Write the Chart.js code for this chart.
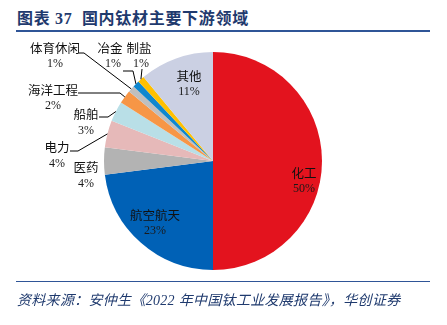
<!DOCTYPE html>
<html>
<head>
<meta charset="utf-8">
<script src="https://cdn.jsdelivr.net/npm/chart.js@4/dist/chart.umd.min.js"></script>
<style>
  html, body { margin: 0; padding: 0; background: #fff; }
  #wrap { position: relative; width: 447px; height: 325px; overflow: hidden; }
  #title {
    position: absolute; left: 17px; top: 5px;
    font: bold 16px "Liberation Serif", "Noto Sans CJK SC", serif;
    color: #1f3a6e; letter-spacing: 0.7px; white-space: nowrap;
  }
  #topRule { position: absolute; left: 16px; top: 30px; width: 414px; height: 2px; background: #2f5597; }
  #bottomRule { position: absolute; left: 16px; top: 281px; width: 414px; height: 1px; background: #2f5597; }
  #source {
    position: absolute; left: 17px; top: 289px;
    font: italic 14px "Liberation Serif", "Noto Sans CJK SC", serif;
    color: #1f3a6e; white-space: nowrap; letter-spacing: 0.3px;
  }
  #chartBox { position: absolute; left: 0; top: 0; width: 447px; height: 325px; }
</style>
</head>
<body>
<div id="wrap">
  <div id="title">图表 37&nbsp;&nbsp;国内钛材主要下游领域</div>
  <div id="topRule"></div>
  <div id="chartBox"><canvas id="pieChart"></canvas></div>
  <div id="bottomRule"></div>
  <div id="source">资料来源：安仲生《2022 年中国钛工业发展报告》，华创证券</div>
</div>
<script>
(function(){
  // data
  const categories = ["化工", "航空航天", "医药", "电力", "船舶", "海洋工程", "体育休闲", "冶金", "制盐", "其他"];
  const shares = [50, 23, 4, 4, 3, 2, 1, 1, 1, 11];
  const percentLabels = ["50%", "23%", "4%", "4%", "3%", "2%", "1%", "1%", "1%", "11%"];
  const sliceColors = ["#e3131e", "#0061b6", "#b3b3b3", "#e6b9b9", "#b9dfe7", "#f79646", "#bfbfbf", "#0f87cf", "#ffc000", "#cbd0e3"];

  // label placement (page px): name centre, percent centre, optional leader elbow
  const labelLayout = [
    { name: [304, 173], pct: [304, 189] },
    { name: [155, 215], pct: [155, 231] },
    { name: [86, 167],  pct: [86, 184] },
    { name: [57, 147],  pct: [57, 164],  line: [[70, 151], [78, 151]] },
    { name: [86, 114],  pct: [86, 131],  line: [[99, 117], [108, 117]] },
    { name: [53, 90],   pct: [53, 106],  line: [[78, 93], [120, 93]] },
    { name: [55, 48],   pct: [55, 64],   line: [[79, 53], [84, 53]] },
    { name: [110, 48],  pct: [113, 64],  line: [[123, 71], [133, 71]] },
    { name: [139, 48],  pct: [141, 64],  line: [[142, 69]] },
    { name: [189, 76],  pct: [189, 92] }
  ];

  const labelPlugin = {
    id: 'pieLabels',
    afterDatasetsDraw(chart){
      const c = chart.ctx;
      const arcs = chart.getDatasetMeta(0).data;
      c.save();
      c.textAlign = 'center';
      c.textBaseline = 'middle';
      arcs.forEach((arc, i) => {
        const lay = labelLayout[i];
        if (lay.line) {
          const mid = (arc.startAngle + arc.endAngle) / 2;
          const ax = arc.x + Math.cos(mid) * arc.outerRadius;
          const ay = arc.y + Math.sin(mid) * arc.outerRadius;
          c.beginPath();
          c.strokeStyle = '#000';
          c.lineWidth = 1;
          c.moveTo(lay.line[0][0], lay.line[0][1]);
          for (let k = 1; k < lay.line.length; k++) c.lineTo(lay.line[k][0], lay.line[k][1]);
          c.lineTo(ax, ay);
          c.stroke();
        }
        c.fillStyle = '#111';
        c.font = '12.5px "Noto Sans CJK SC", sans-serif';
        c.fillText(categories[i], lay.name[0], lay.name[1]);
        c.fillStyle = '#1a1a1a';
        c.font = '12px "Liberation Serif", serif';
        c.fillText(percentLabels[i], lay.pct[0], lay.pct[1]);
      });
      c.restore();
    }
  };

  new Chart(document.getElementById('pieChart'), {
    type: 'pie',
    data: {
      labels: categories,
      datasets: [{
        data: shares,
        backgroundColor: sliceColors,
        borderWidth: 0
      }]
    },
    options: {
      responsive: true,
      maintainAspectRatio: false,
      animation: false,
      layout: { padding: { left: 104, right: 125, top: 52, bottom: 55 } },
      plugins: {
        legend: { display: false },
        tooltip: { enabled: false }
      }
    },
    plugins: [labelPlugin]
  });
})();
</script>
</body>
</html>
